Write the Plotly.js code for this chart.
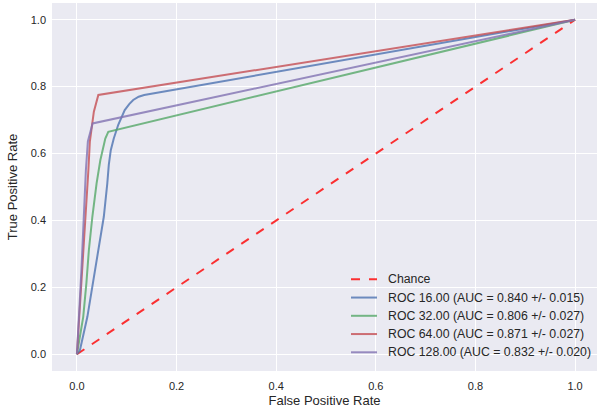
<!DOCTYPE html>
<html><head><meta charset="utf-8">
<script src="https://cdn.plot.ly/plotly-3.0.1.min.js"></script>
<style>html,body{margin:0;padding:0;overflow:hidden;}</style>
</head><body>
<div id="chart" style="width:597px;height:413px;"></div>
<script>
const chanceX = [0, 1];
const chanceY = [0, 1];

const fpr16 = [0, 0.006, 0.021, 0.032, 0.044, 0.054, 0.061, 0.064, 0.068, 0.074, 0.083, 0.096, 0.105, 0.113, 0.124, 0.135, 1];
const tpr16 = [0, 0.012, 0.112, 0.212, 0.311, 0.411, 0.511, 0.566, 0.61, 0.645, 0.686, 0.73, 0.748, 0.76, 0.77, 0.775, 1];

const fpr32 = [0, 0.0127, 0.019, 0.024, 0.031, 0.0395, 0.047, 0.052, 0.057, 0.063, 1];
const tpr32 = [0, 0.112, 0.212, 0.311, 0.411, 0.511, 0.58, 0.615, 0.645, 0.665, 1];

const fpr64 = [0, 0.011, 0.023, 0.026, 0.034, 0.043, 1];
const tpr64 = [0, 0.25, 0.55, 0.636, 0.725, 0.775, 1];

const fpr128 = [0, 0.009, 0.018, 0.022, 0.0315, 1];
const tpr128 = [0, 0.25, 0.55, 0.636, 0.69, 1];

const tickVals = [0, 0.2, 0.4, 0.6, 0.8, 1.0];
const tickText = ["0.0", "0.2", "0.4", "0.6", "0.8", "1.0"];

const names = ["Chance",
  "ROC 16.00 (AUC = 0.840 +/- 0.015)",
  "ROC 32.00 (AUC = 0.806 +/- 0.027)",
  "ROC 64.00 (AUC = 0.871 +/- 0.027)",
  "ROC 128.00 (AUC = 0.832 +/- 0.020)"];
const colors = ["rgba(255,0,0,0.8)", "rgba(76,114,176,0.8)", "rgba(85,168,104,0.8)", "rgba(196,78,82,0.8)", "rgba(129,114,178,0.8)"];

const xs = [chanceX, fpr16, fpr32, fpr64, fpr128];
const ys = [chanceY, tpr16, tpr32, tpr64, tpr128];

const traces = xs.map((x, i) => ({
  x: x, y: ys[i], type: "scatter", mode: "lines", name: names[i], showlegend: false,
  line: {color: colors[i], width: 2, dash: i === 0 ? "dash" : "solid"}
}));

// legend drawn with shapes + annotations (paper coordinates)
const M = {l: 52, r: 0, t: 3, b: 42};
const W = 597, H = 413;
const pw = W - M.l - M.r, ph = H - M.t - M.b;
const px2x = p => (p - M.l) / pw;
const py2y = p => (H - M.b - p) / ph;
const legY0 = 279.3, legDY = 18.25;
const shapes = [], annotations = [];
names.forEach((n, i) => {
  const yy = py2y(legY0 + i * legDY);
  shapes.push({type: "line", xref: "paper", yref: "paper", x0: px2x(351), x1: px2x(377), y0: yy, y1: yy,
               line: {color: colors[i], width: 2, dash: i === 0 ? "dash" : "solid"}});
  annotations.push({xref: "paper", yref: "paper", x: px2x(386), y: yy, xanchor: "left", yanchor: "middle",
                    text: n, showarrow: false,
                    font: {family: "Liberation Sans, Arial, sans-serif", size: 12.3, color: "#262626"}});
});

const font = {family: "Liberation Sans, Arial, sans-serif", size: 11, color: "#262626"};
const layout = {
  width: W, height: H,
  margin: M,
  paper_bgcolor: "#ffffff",
  plot_bgcolor: "#EAEAF2",
  font: font,
  showlegend: false,
  shapes: shapes,
  annotations: annotations,
  xaxis: {range: [-0.05, 1.044], tickvals: tickVals, ticktext: tickText,
          showgrid: true, gridcolor: "#ffffff", gridwidth: 1, zeroline: false, showline: false,
          ticks: "", ticklabelstandoff: 7,
          title: {text: "False Positive Rate", font: {size: 13, color: "#262626"}, standoff: 4}},
  yaxis: {range: [-0.05, 1.05], tickvals: tickVals, ticktext: tickText,
          showgrid: true, gridcolor: "#ffffff", gridwidth: 1, zeroline: false, showline: false,
          ticks: "", ticklabelstandoff: 5,
          title: {text: "True Positive Rate", font: {size: 13, color: "#262626"}, standoff: 10}}
};
Plotly.newPlot("chart", traces, layout, {displayModeBar: false, staticPlot: true});
</script>
</body></html>
